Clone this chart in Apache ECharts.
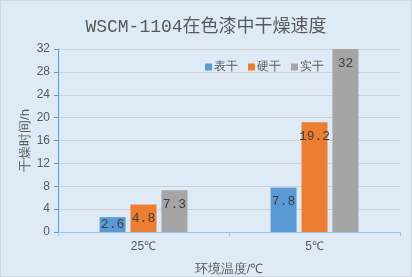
<!DOCTYPE html>
<html><head><meta charset="utf-8">
<script src="https://cdn.jsdelivr.net/npm/echarts@6/dist/echarts.min.js"></script>
<style>html,body{margin:0;padding:0;background:#DEEAF6;}#c{width:410px;height:275px;border:1px solid #D0D6DE;}</style>
</head><body><div id="c"></div>
<script>
var categories = ['25℃', '5℃'];
var seriesNames = ['表干', '硬干', '实干'];
var surfaceDry = [2.6, 7.8];
var hardDry = [4.8, 19.2];
var fullDry = [7.3, 32];
var yTicks = [0, 4, 8, 12, 16, 20, 24, 28, 32];
var colors = ['#5B9BD5', '#ED7D31', '#A5A5A5'];

function mk(name, vals, color) {
  return {
    name: name, type: 'bar', barWidth: 26, barGap: '19%',
    itemStyle: { color: color },
    data: vals.map(function (v) {
      var d = { value: v };
      if (v < 4) d.label = { position: 'inside' };
      return d;
    }),
    label: { show: true, position: 'insideTop', distance: 8, color: '#404040',
      fontFamily: 'Liberation Mono, DejaVu Sans Mono, monospace', fontSize: 13 }
  };
}
var chart = echarts.init(document.getElementById('c'));
chart.setOption({
  backgroundColor: '#DEEAF6',
  animation: false,
  title: { text: 'WSCM-1104在色漆中干燥速度', left: 'center', top: 12,
    textStyle: { fontSize: 18, fontWeight: 'normal', color: '#595959',
      fontFamily: 'Liberation Mono, Noto Sans CJK SC' } },
  legend: { data: seriesNames, top: 55, left: 199, itemWidth: 7, itemHeight: 7, itemGap: 10,
    icon: 'rect', textStyle: { fontSize: 12, color: '#595959', padding: [0, 0, 0, -3] } },
  grid: { left: 57, right: 11, top: 48, bottom: 44, outerBoundsMode: 'none', containLabel: false },
  xAxis: { type: 'category', data: categories,
    name: '环境温度/℃', nameLocation: 'middle', nameGap: 31, nameMoveOverlap: false,
    nameTextStyle: { fontSize: 13, color: '#595959' },
    axisLine: { lineStyle: { color: '#9DC3E6', width: 1 } },
    axisTick: { show: true, alignWithLabel: false, length: 4, lineStyle: { color: '#9DC3E6' } },
    axisLabel: { fontSize: 12, color: '#595959', margin: 9 } },
  yAxis: { type: 'value', min: 0, max: 32, interval: 4,
    name: '干燥时间/h', nameLocation: 'middle', nameGap: 26, nameMoveOverlap: false,
    nameTextStyle: { fontSize: 13, color: '#595959' },
    axisLine: { show: true, lineStyle: { color: '#5B9BD5' } },
    axisTick: { show: true, length: 4, lineStyle: { color: '#5B9BD5' } },
    axisLabel: { fontSize: 12, color: '#595959', margin: 8,
      formatter: function (v) { return yTicks.indexOf(v) >= 0 ? String(v) : ''; } },
    splitLine: { lineStyle: { color: '#D0D0D0' } } },
  series: [mk(seriesNames[0], surfaceDry, colors[0]), mk(seriesNames[1], hardDry, colors[1]), mk(seriesNames[2], fullDry, colors[2])]
});
</script></body></html>
